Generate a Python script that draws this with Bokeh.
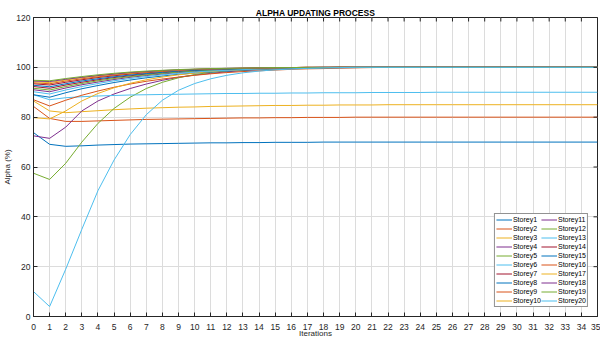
import math
from bokeh.plotting import figure
from bokeh.models import Range1d, FixedTicker, Legend, LegendItem
from bokeh.embed import file_html
from bokeh.resources import INLINE

iterations = list(range(36))

storey1 = [73.8, 69.1, 68.3, 68.5, 68.8, 69.0, 69.2, 69.3, 69.4, 69.5, 69.6, 69.7, 69.7, 69.8, 69.8, 69.9, 69.9, 69.9,
           70.0, 70.0, 70.0, 70.0, 70.0, 70.0, 70.0, 70.0, 70.0, 70.0, 70.0, 70.0, 70.0, 70.0, 70.0, 70.0, 70.0, 70.0]
storey2 = [84.3, 79.5, 78.3, 78.3, 78.5, 78.7, 78.9, 79.1, 79.2, 79.3, 79.4, 79.5, 79.6, 79.7, 79.7, 79.8, 79.8, 79.9,
           79.9, 79.9, 80.0, 80.0, 80.0, 80.0, 80.0, 80.0, 80.0, 80.0, 80.0, 80.0, 80.0, 80.0, 80.0, 80.0, 80.0, 80.0]
storey3 = [86.5, 82.5, 81.8, 82.2, 82.6, 83.0, 83.3, 83.6, 83.8, 84.0, 84.1, 84.3, 84.4, 84.5, 84.6, 84.7, 84.7, 84.8,
           84.8, 84.9, 84.9, 84.9, 85.0, 85.0, 85.0, 85.0, 85.0, 85.0, 85.0, 85.0, 85.0, 85.0, 85.0, 85.0, 85.0, 85.0]
storey4 = [72.5, 71.5, 76.0, 82.5, 86.5, 89.3, 91.5, 93.3, 94.8, 96.0, 96.9, 97.6, 98.2, 98.7, 99.1, 99.4, 99.6, 99.8,
           99.9, 100, 100, 100, 100, 100, 100, 100, 100, 100, 100, 100, 100, 100, 100, 100, 100, 100]
storey5 = [57.5, 55.0, 61.5, 70.0, 77.5, 83.5, 88.0, 91.5, 94.0, 95.8, 97.1, 98.0, 98.6, 99.0, 99.3, 99.5, 99.7, 99.8,
           99.9, 100, 100, 100, 100, 100, 100, 100, 100, 100, 100, 100, 100, 100, 100, 100, 100, 100]
storey6 = [89.0, 87.0, 87.8, 88.2, 88.5, 88.7, 88.9, 89.0, 89.1, 89.2, 89.3, 89.4, 89.5, 89.5, 89.6, 89.6, 89.7, 89.7,
           89.8, 89.8, 89.8, 89.9, 89.9, 89.9, 89.9, 90.0, 90.0, 90.0, 90.0, 90.0, 90.0, 90.0, 90.0, 90.0, 90.0, 90.0]
storey7 = [92.3, 91.6, 92.9, 94.0, 95.0, 95.9, 96.6, 97.3, 97.8, 98.3, 98.7, 99.0, 99.2, 99.4, 99.6, 99.7, 99.8, 99.9,
           100, 100, 100, 100, 100, 100, 100, 100, 100, 100, 100, 100, 100, 100, 100, 100, 100, 100]
storey8 = [89.0, 88.0, 89.8, 91.4, 92.7, 93.9, 94.9, 95.8, 96.5, 97.2, 97.7, 98.1, 98.5, 98.8, 99.1, 99.3, 99.5, 99.6,
           99.7, 99.8, 99.9, 100, 100, 100, 100, 100, 100, 100, 100, 100, 100, 100, 100, 100, 100, 100]
storey9 = [87.0, 84.5, 86.8, 88.8, 90.5, 92.0, 93.3, 94.4, 95.3, 96.1, 96.8, 97.4, 97.9, 98.3, 98.6, 98.9, 99.2, 99.4,
           99.5, 99.7, 99.8, 99.9, 100, 100, 100, 100, 100, 100, 100, 100, 100, 100, 100, 100, 100, 100]
storey10 = [79.8, 79.3, 82.5, 86.5, 89.5, 91.8, 93.6, 95.0, 96.1, 97.0, 97.7, 98.3, 98.7, 99.0, 99.3, 99.5, 99.7, 99.8,
            99.9, 100, 100, 100, 100, 100, 100, 100, 100, 100, 100, 100, 100, 100, 100, 100, 100, 100]
storey11 = [91.0, 90.2, 91.7, 93.0, 94.1, 95.1, 96.0, 96.7, 97.3, 97.9, 98.3, 98.7, 99.0, 99.2, 99.4, 99.6, 99.7, 99.8,
            99.9, 100, 100, 100, 100, 100, 100, 100, 100, 100, 100, 100, 100, 100, 100, 100, 100, 100]
storey12 = [91.6, 90.9, 92.3, 93.5, 94.6, 95.5, 96.3, 97.0, 97.6, 98.1, 98.5, 98.8, 99.1, 99.3, 99.5, 99.6, 99.7, 99.8,
            99.9, 100, 100, 100, 100, 100, 100, 100, 100, 100, 100, 100, 100, 100, 100, 100, 100, 100]
storey13 = [90.2, 89.3, 90.9, 92.3, 93.5, 94.6, 95.5, 96.3, 97.0, 97.6, 98.1, 98.5, 98.8, 99.1, 99.3, 99.5, 99.6, 99.7,
            99.8, 99.9, 100, 100, 100, 100, 100, 100, 100, 100, 100, 100, 100, 100, 100, 100, 100, 100]
storey14 = [93.4, 92.9, 94.0, 95.0, 95.9, 96.6, 97.3, 97.8, 98.3, 98.7, 99.0, 99.2, 99.4, 99.6, 99.7, 99.8, 99.9, 100,
            100, 100, 100, 100, 100, 100, 100, 100, 100, 100, 100, 100, 100, 100, 100, 100, 100, 100]
storey15 = [92.8, 92.2, 93.4, 94.5, 95.4, 96.2, 96.9, 97.5, 98.0, 98.5, 98.8, 99.1, 99.3, 99.5, 99.6, 99.7, 99.8, 99.9,
            100, 100, 100, 100, 100, 100, 100, 100, 100, 100, 100, 100, 100, 100, 100, 100, 100, 100]
storey16 = [93.8, 93.4, 94.5, 95.4, 96.2, 96.9, 97.5, 98.0, 98.4, 98.8, 99.1, 99.3, 99.5, 99.6, 99.7, 99.8, 99.9, 100,
            100, 100, 100, 100, 100, 100, 100, 100, 100, 100, 100, 100, 100, 100, 100, 100, 100, 100]
storey17 = [94.2, 93.9, 94.9, 95.8, 96.5, 97.2, 97.7, 98.2, 98.6, 98.9, 99.2, 99.4, 99.5, 99.7, 99.8, 99.8, 99.9, 100,
            100, 100, 100, 100, 100, 100, 100, 100, 100, 100, 100, 100, 100, 100, 100, 100, 100, 100]
storey18 = [94.5, 94.3, 95.2, 96.0, 96.7, 97.3, 97.9, 98.3, 98.7, 99.0, 99.2, 99.4, 99.6, 99.7, 99.8, 99.9, 99.9, 100,
            100, 100, 100, 100, 100, 100, 100, 100, 100, 100, 100, 100, 100, 100, 100, 100, 100, 100]
storey19 = [94.8, 94.6, 95.5, 96.3, 97.0, 97.6, 98.1, 98.5, 98.8, 99.1, 99.3, 99.5, 99.6, 99.7, 99.8, 99.9, 99.9, 100,
            100, 100, 100, 100, 100, 100, 100, 100, 100, 100, 100, 100, 100, 100, 100, 100, 100, 100]
storey20 = [10.0, 4.0, 19.0, 35.0, 50.5, 62.8, 73.0, 81.0, 86.8, 90.8, 93.5, 95.4, 96.8, 97.8, 98.5, 99.0, 99.3, 99.6,
            99.8, 99.9, 100, 100, 100, 100, 100, 100, 100, 100, 100, 100, 100, 100, 100, 100, 100, 100]

series = [storey1, storey2, storey3, storey4, storey5, storey6, storey7, storey8, storey9, storey10,
          storey11, storey12, storey13, storey14, storey15, storey16, storey17, storey18, storey19, storey20]
labels = ["Storey%d" % (i + 1) for i in range(20)]
palette = ["#0072BD", "#D95319", "#EDB120", "#7E2F8E", "#77AC30", "#4DBEEE", "#A2142F"]

x_ticks = list(range(36))
y_ticks = [0, 20, 40, 60, 80, 100, 120]
x_min, x_max = 0, 35
y_min, y_max = 0, 120

FONT = "Liberation Sans"
DARK = "#262626"

p = figure(width=600, height=340, output_backend="svg", toolbar_location=None,
           x_range=Range1d(x_min, x_max), y_range=Range1d(y_min, y_max),
           min_border_left=0, min_border_right=3, min_border_top=17, min_border_bottom=0,
           title="ALPHA UPDATING PROCESS")
p.title.align = "center"
p.title.text_font = FONT
p.title.text_font_size = "8.5px"
p.title.text_font_style = "bold"
p.title.text_color = "#000000"
p.title.standoff = 0
p.title.offset = 0

p.outline_line_color = DARK
p.outline_line_width = 1
p.outline_line_alpha = 1

for ax in [p.xaxis[0], p.yaxis[0]]:
    ax.axis_line_color = DARK
    ax.major_tick_line_color = DARK
    ax.major_tick_in = 4
    ax.major_tick_out = 0
    ax.minor_tick_line_color = None
    ax.major_label_text_font = FONT
    ax.major_label_text_font_size = "8.5px"
    ax.major_label_text_color = DARK
    ax.axis_label_text_font = FONT
    ax.axis_label_text_font_size = "8px"
    ax.axis_label_text_font_style = "normal"
    ax.axis_label_text_color = DARK

p.xaxis[0].ticker = FixedTicker(ticks=x_ticks)
p.yaxis[0].ticker = FixedTicker(ticks=y_ticks)
p.xaxis[0].axis_label = "Iterations"
p.yaxis[0].axis_label = "Alpha (%)"
p.xaxis[0].major_label_standoff = 7
p.xaxis[0].axis_label_standoff = -4
p.yaxis[0].major_label_standoff = 3
p.yaxis[0].axis_label_standoff = 1

p.xgrid.ticker = FixedTicker(ticks=x_ticks)
p.ygrid.ticker = FixedTicker(ticks=y_ticks)
p.grid.grid_line_color = "#dcdcdc"
p.grid.grid_line_width = 1

items = []
for i, (s, lab) in enumerate(zip(series, labels)):
    r = p.line(iterations, s, line_color=palette[i % 7], line_width=1)
    items.append(LegendItem(label=lab, renderers=[r]))

# box ticks on the top and right edges (MATLAB "box on" style), clipped to the frame
p.scatter(x=x_ticks, y=[y_max] * len(x_ticks), marker="dash", angle=math.pi / 2, size=8,
          line_color=DARK, line_width=1)
p.scatter(x=[x_max] * len(y_ticks), y=y_ticks, marker="dash", size=8,
          line_color=DARK, line_width=1)

legend = Legend(items=items, ncols=2, location="bottom_right",
                label_text_font=FONT, label_text_font_size="7px", label_text_color="#000000",
                glyph_width=16, glyph_height=9, label_height=9, label_standoff=1,
                spacing=0, padding=1, margin=9,
                border_line_color=DARK, border_line_width=1, background_fill_alpha=1)
p.add_layout(legend)

open("out.html", "w").write(file_html(p, INLINE))
